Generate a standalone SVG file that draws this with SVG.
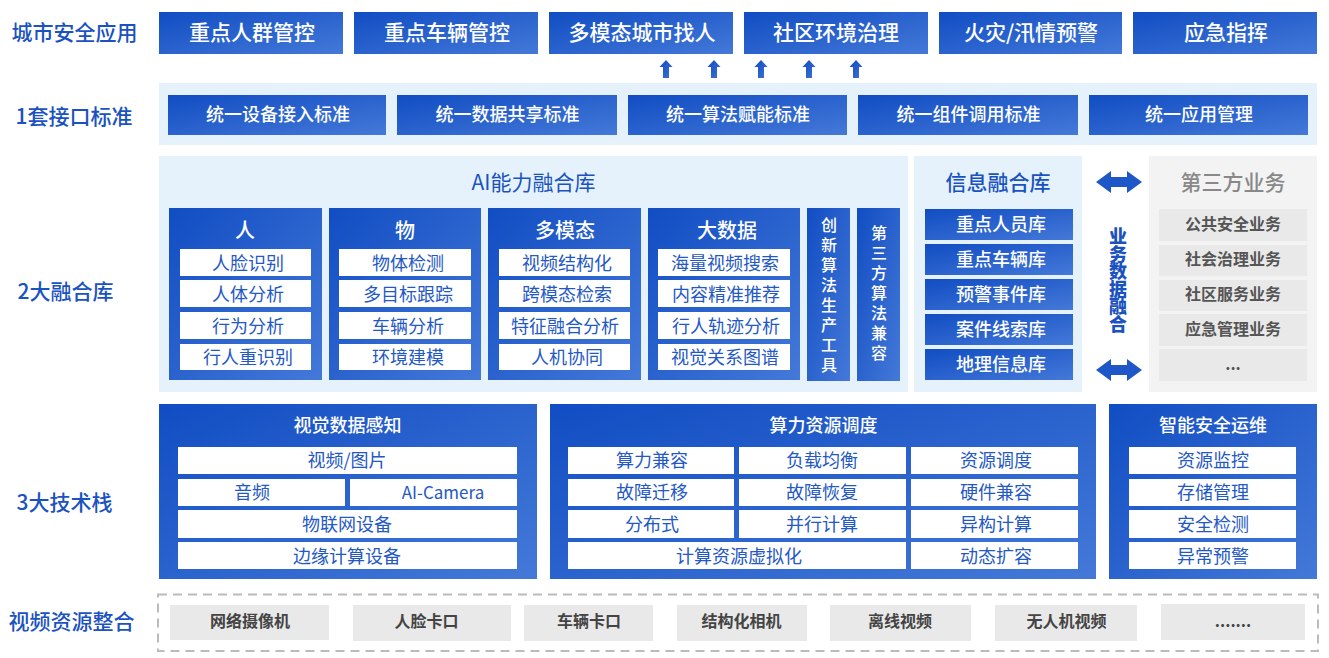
<svg xmlns="http://www.w3.org/2000/svg" width="1329" height="658" viewBox="0 0 1329 658">
<style>
text{font-family:"Noto Sans CJK SC","Liberation Sans",sans-serif;text-anchor:middle;dominant-baseline:central;transform:translateY(-2px)}
.t3,.h,.h2,.g1,.g2,.st,.tt{transform:translateY(-3px)}
.b{fill:url(#g)}.p{fill:#e5f2fc}.w{fill:#fff}.gp{fill:#f3f3f3}.gb{fill:#e9e9e9}
.lab{font-size:21px;font-weight:500;fill:#1a52bf}
.t1{font-size:21px;font-weight:500;fill:#fff}
.t2{font-size:18px;font-weight:500;fill:#fff}
.t3{font-size:18px;fill:#2458c4}
.h{font-size:20px;font-weight:500;fill:#fff}
.h2{font-size:18px;font-weight:500;fill:#fff}
.g1{font-size:16px;font-weight:700;fill:#555}
.g2{font-size:16px;font-weight:700;fill:#444}
.v{font-size:16px;font-weight:500;fill:#fff;letter-spacing:4px}
.st{font-size:21px;font-weight:500;fill:#1a52bf}
</style>
<defs>
<linearGradient id="g" x1="0" y1="0" x2="1" y2="1"><stop offset="0" stop-color="#114dc3"/><stop offset="1" stop-color="#4479d8"/></linearGradient>
<linearGradient id="a" x1="0" y1="0" x2="1" y2="1"><stop offset="0" stop-color="#1148c0"/><stop offset="1" stop-color="#3f74d6"/></linearGradient>
<path id="up" d="M0 0L6.500 7H3V18H-3V7H-6.500Z" fill="url(#a)"/>
<path id="lr" d="M0 11L15 0V6H31V0L46 11L31 22V16H15V22Z" fill="#1e57c8"/>
</defs>
<g id="labels">
<text class="lab" x="74.500" y="33">城市安全应用</text>
<text class="lab" x="74" y="117">1套接口标准</text>
<text class="lab" x="65.500" y="292">2大融合库</text>
<text class="lab" x="64.500" y="503">3大技术栈</text>
<text class="lab" x="71.500" y="622">视频资源整合</text>
</g>
<g id="apps">
<rect class="b" x="159" y="12" width="184" height="42"/><text class="t1" x="252" y="33">重点人群管控</text>
<rect class="b" x="354" y="12" width="184" height="42"/><text class="t1" x="447" y="33">重点车辆管控</text>
<rect class="b" x="549" y="12" width="184" height="42"/><text class="t1" x="642" y="33">多模态城市找人</text>
<rect class="b" x="744" y="12" width="184" height="42"/><text class="t1" x="836" y="33">社区环境治理</text>
<rect class="b" x="939" y="12" width="183" height="42"/><text class="t1" x="1031" y="33">火灾/汛情预警</text>
<rect class="b" x="1133" y="12" width="184" height="42"/><text class="t1" x="1226" y="33">应急指挥</text>
</g>
<g id="connectors">
<use href="#up" x="666" y="60"/><use href="#up" x="714" y="60"/><use href="#up" x="761" y="60"/><use href="#up" x="809" y="60"/><use href="#up" x="856" y="60"/>
<use href="#lr" x="1096" y="171"/><use href="#lr" x="1096" y="359"/>
</g>
<g id="standards">
<rect class="p" x="159" y="83" width="1158" height="62"/>
<rect class="b" x="168" y="95" width="218" height="40"/><text class="t2" x="278" y="115">统一设备接入标准</text>
<rect class="b" x="397" y="95" width="220" height="40"/><text class="t2" x="507.500" y="115">统一数据共享标准</text>
<rect class="b" x="628" y="95" width="219" height="40"/><text class="t2" x="738" y="115">统一算法赋能标准</text>
<rect class="b" x="858" y="95" width="220" height="40"/><text class="t2" x="968.500" y="115">统一组件调用标准</text>
<rect class="b" x="1089" y="95" width="219" height="40"/><text class="t2" x="1199" y="115">统一应用管理</text>
</g>
<g id="ai-lib">
<rect class="p" x="159" y="156" width="749" height="236"/>
<text class="tt" x="533.500" y="184" style="font-size:21px;fill:#1a52bf">AI能力融合库</text>
<g id="col-ren"><rect class="b" x="169" y="208" width="153" height="172"/><text class="h" x="245" y="232">人</text>
<rect class="w" x="180" y="249" width="131" height="27"/><text class="t3" x="248" y="265">人脸识别</text>
<rect class="w" x="180" y="280" width="131" height="27"/><text class="t3" x="248" y="296">人体分析</text>
<rect class="w" x="180" y="312" width="131" height="27"/><text class="t3" x="248" y="328">行为分析</text>
<rect class="w" x="180" y="344" width="131" height="26"/><text class="t3" x="248" y="359">行人重识别</text></g>
<g id="col-wu"><rect class="b" x="329" y="208" width="152" height="172"/><text class="h" x="405" y="232">物</text>
<rect class="w" x="339" y="249" width="132" height="27"/><text class="t3" x="408" y="265">物体检测</text>
<rect class="w" x="339" y="280" width="132" height="27"/><text class="t3" x="408" y="296">多目标跟踪</text>
<rect class="w" x="339" y="312" width="132" height="27"/><text class="t3" x="408" y="328">车辆分析</text>
<rect class="w" x="339" y="344" width="132" height="26"/><text class="t3" x="408" y="359">环境建模</text></g>
<g id="col-mm"><rect class="b" x="488" y="208" width="153" height="172"/><text class="h" x="565" y="232">多模态</text>
<rect class="w" x="499" y="249" width="131" height="27"/><text class="t3" x="567" y="265">视频结构化</text>
<rect class="w" x="499" y="280" width="131" height="27"/><text class="t3" x="567" y="296">跨模态检索</text>
<rect class="w" x="499" y="312" width="131" height="27"/><text class="t3" x="565" y="328">特征融合分析</text>
<rect class="w" x="499" y="344" width="131" height="26"/><text class="t3" x="567" y="359">人机协同</text></g>
<g id="col-bd"><rect class="b" x="648" y="208" width="152" height="172"/><text class="h" x="727" y="232">大数据</text>
<rect class="w" x="658" y="249" width="132" height="27"/><text class="t3" x="725" y="265">海量视频搜索</text>
<rect class="w" x="658" y="280" width="132" height="27"/><text class="t3" x="726" y="296">内容精准推荐</text>
<rect class="w" x="658" y="312" width="132" height="27"/><text class="t3" x="726" y="328">行人轨迹分析</text>
<rect class="w" x="658" y="344" width="132" height="26"/><text class="t3" x="725" y="359">视觉关系图谱</text></g>
<g id="col-tool"><rect class="b" x="807" y="208" width="43" height="173"/>
<text class="v" x="829" y="299" writing-mode="vertical-rl">创新算法生产工具</text></g>
<g id="col-third"><rect class="b" x="857" y="208" width="43" height="173"/>
<text class="v" x="879" y="297" writing-mode="vertical-rl">第三方算法兼容</text></g>
</g>
<g id="info-lib">
<rect class="p" x="914" y="156" width="168" height="236"/>
<text class="st" x="998" y="184">信息融合库</text>
<rect class="b" x="925" y="209" width="148" height="31"/><text class="h2" x="1001" y="226">重点人员库</text>
<rect class="b" x="925" y="244" width="148" height="31"/><text class="h2" x="1001" y="261">重点车辆库</text>
<rect class="b" x="925" y="279" width="148" height="31"/><text class="h2" x="1001" y="296">预警事件库</text>
<rect class="b" x="925" y="314" width="148" height="31"/><text class="h2" x="1001" y="331">案件线索库</text>
<rect class="b" x="925" y="349" width="148" height="31"/><text class="h2" x="1001" y="366">地理信息库</text>
</g>
<g id="biz-fusion">
<text x="1118" y="282" writing-mode="vertical-rl" style="font-size:18px;font-weight:900;fill:#1a52bf;letter-spacing:-0.500px">业务数据融合</text>
</g>
<g id="third-party">
<rect class="gp" x="1149" y="156" width="168" height="236"/>
<text class="tt" x="1233" y="184" style="font-size:21px;font-weight:500;fill:#888">第三方业务</text>
<rect class="gb" x="1159" y="209" width="148" height="32"/><text class="g1" x="1233" y="226">公共安全业务</text>
<rect class="gb" x="1159" y="245" width="148" height="31"/><text class="g1" x="1233" y="261">社会治理业务</text>
<rect class="gb" x="1159" y="280" width="148" height="31"/><text class="g1" x="1233" y="296">社区服务业务</text>
<rect class="gb" x="1159" y="314" width="148" height="32"/><text class="g1" x="1233" y="331">应急管理业务</text>
<rect class="gb" x="1159" y="349" width="148" height="32"/><text class="g1" x="1233" y="366">...</text>
</g>
<g id="vision">
<rect class="b" x="159" y="404" width="378" height="175"/><text class="h2" x="347.500" y="427">视觉数据感知</text>
<rect class="w" x="178" y="447" width="339" height="27"/><text class="t3" x="347" y="462">视频/图片</text>
<rect class="w" x="178" y="479" width="167" height="27"/><text class="t3" x="252" y="494">音频</text>
<rect class="w" x="350" y="479" width="167" height="27"/><text class="t3" x="443" y="494" style="font-size:17px">AI-Camera</text>
<rect class="w" x="178" y="510" width="339" height="28"/><text class="t3" x="347" y="526">物联网设备</text>
<rect class="w" x="178" y="542" width="339" height="27"/><text class="t3" x="347" y="558">边缘计算设备</text>
</g>
<g id="compute">
<rect class="b" x="550" y="404" width="546" height="175"/><text class="h2" x="823.500" y="427">算力资源调度</text>
<rect class="w" x="568" y="447" width="166" height="27"/><text class="t3" x="652" y="462">算力兼容</text>
<rect class="w" x="739" y="447" width="167" height="27"/><text class="t3" x="822" y="462">负载均衡</text>
<rect class="w" x="911" y="447" width="167" height="27"/><text class="t3" x="996" y="462">资源调度</text>
<rect class="w" x="568" y="479" width="166" height="27"/><text class="t3" x="652" y="494">故障迁移</text>
<rect class="w" x="739" y="479" width="167" height="27"/><text class="t3" x="822" y="494">故障恢复</text>
<rect class="w" x="911" y="479" width="167" height="27"/><text class="t3" x="996" y="494">硬件兼容</text>
<rect class="w" x="568" y="510" width="166" height="28"/><text class="t3" x="652" y="526">分布式</text>
<rect class="w" x="739" y="510" width="167" height="28"/><text class="t3" x="822" y="526">并行计算</text>
<rect class="w" x="911" y="510" width="167" height="28"/><text class="t3" x="996" y="526">异构计算</text>
<rect class="w" x="568" y="542" width="338" height="27"/><text class="t3" x="739" y="558">计算资源虚拟化</text>
<rect class="w" x="911" y="542" width="167" height="27"/><text class="t3" x="996" y="558">动态扩容</text>
</g>
<g id="ops">
<rect class="b" x="1109" y="404" width="208" height="175"/><text class="h2" x="1213" y="427">智能安全运维</text>
<rect class="w" x="1129" y="447" width="167" height="27"/><text class="t3" x="1213" y="462">资源监控</text>
<rect class="w" x="1129" y="479" width="167" height="27"/><text class="t3" x="1213" y="494">存储管理</text>
<rect class="w" x="1129" y="510" width="167" height="28"/><text class="t3" x="1213" y="526">安全检测</text>
<rect class="w" x="1129" y="542" width="167" height="27"/><text class="t3" x="1213" y="558">异常预警</text>
</g>
<g id="sources">
<rect x="158" y="594.500" width="1160" height="56.500" fill="none" stroke="#bbb" stroke-width="2" stroke-dasharray="9 6"/>
<rect class="gb" x="170" y="605" width="159" height="35"/><text class="g2" x="250" y="623">网络摄像机</text>
<rect class="gb" x="353" y="605" width="158" height="36"/><text class="g2" x="426.500" y="623">人脸卡口</text>
<rect class="gb" x="524" y="605" width="129" height="36"/><text class="g2" x="589" y="623">车辆卡口</text>
<rect class="gb" x="677" y="605" width="130" height="36"/><text class="g2" x="741.500" y="623">结构化相机</text>
<rect class="gb" x="830" y="605" width="141" height="36"/><text class="g2" x="900" y="623">离线视频</text>
<rect class="gb" x="995" y="605" width="142" height="36"/><text class="g2" x="1066.500" y="623">无人机视频</text>
<rect class="gb" x="1161" y="604" width="144" height="36"/><text class="g2" x="1233" y="623">.......</text>
</g>
</svg>
